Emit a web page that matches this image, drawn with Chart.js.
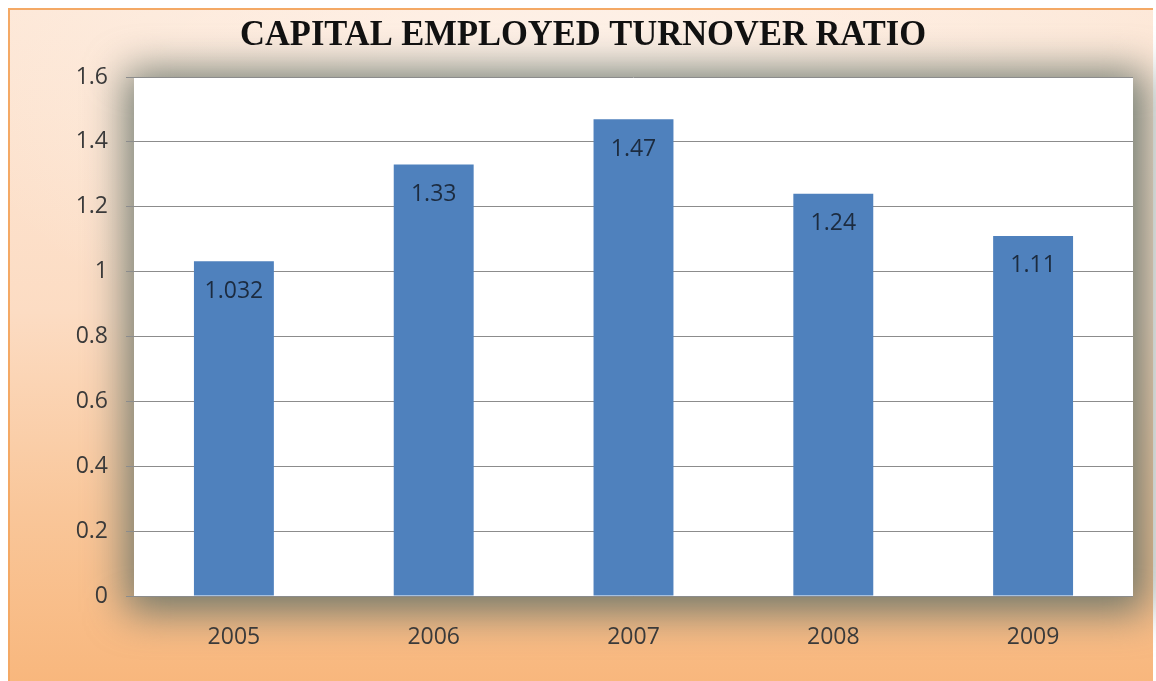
<!DOCTYPE html>
<html>
<head>
<meta charset="utf-8">
<script src="https://cdn.jsdelivr.net/npm/chart.js@4/dist/chart.umd.min.js"></script>
<style>
  body { margin: 0; background: #fff; }
  .frame {
    position: absolute; left: 8px; top: 8px; width: 1145px; height: 673px;
    border-top: 2px solid #f4a965; border-left: 2px solid #f4a965;
    box-sizing: border-box;
    background:
      radial-gradient(ellipse 55% 45% at 50% 12%, rgba(255, 246, 240, 0.75), rgba(255, 246, 240, 0) 100%),
      linear-gradient(to bottom, #fde8d8 0%, #fcdcc3 45%, #f9c699 75%, #f8b77d 100%);
  }
  #chart { position: absolute; left: 0; top: 0; }
</style>
</head>
<body>
<div class="frame"></div>
<canvas id="chart" width="1156" height="681"></canvas>
<script>
const years = ["2005", "2006", "2007", "2008", "2009"];
const ratios = [1.032, 1.33, 1.47, 1.24, 1.11];
const chartTitle = "CAPITAL EMPLOYED TURNOVER RATIO";

// white plot area with the soft grey-green shadow around it
const plotBackground = {
  id: "plotBackground",
  beforeDraw(chart) {
    const { ctx, chartArea: a } = chart;
    const w = a.right - a.left, h = a.bottom - a.top;
    ctx.save();
    ctx.filter = "blur(20px)";
    ctx.fillStyle = "rgba(98, 112, 102, 0.9)";
    ctx.fillRect(a.left - 8, a.top - 6, w + 22, h + 22);
    ctx.restore();
    ctx.save();
    ctx.fillStyle = "#fff";
    ctx.fillRect(a.left, a.top, w, h);
    ctx.restore();
  }
};

// values written inside the top of each bar
const barValues = {
  id: "barValues",
  afterDatasetsDraw(chart) {
    const ctx = chart.ctx;
    const meta = chart.getDatasetMeta(0);
    ctx.save();
    ctx.font = '23px "Open Sans"';
    ctx.fillStyle = "#1c2b3f";
    ctx.textAlign = "center";
    ctx.textBaseline = "middle";
    meta.data.forEach((bar, i) => {
      ctx.fillText(String(ratios[i]), bar.x, bar.y + 30);
    });
    ctx.restore();
  }
};

// condensed serif heading
const heading = {
  id: "heading",
  afterDraw(chart) {
    const ctx = chart.ctx;
    ctx.save();
    ctx.font = 'bold 35px "Liberation Serif"';
    ctx.fillStyle = "#111";
    ctx.textAlign = "center";
    ctx.textBaseline = "alphabetic";
    const w = ctx.measureText(chartTitle).width;
    ctx.translate(583, 45);
    ctx.scale(686 / w, 1);
    ctx.fillText(chartTitle, 0, 0);
    ctx.restore();
  }
};

new Chart(document.getElementById("chart"), {
  type: "bar",
  data: {
    labels: years,
    datasets: [{
      data: ratios,
      backgroundColor: "#4f81bd",
      barPercentage: 0.8,
      categoryPercentage: 0.5
    }]
  },
  options: {
    responsive: false,
    animation: false,
    layout: { padding: { left: 40, top: 77, right: 23, bottom: 0 } },
    plugins: {
      legend: { display: false },
      title: { display: false },
      tooltip: { enabled: false }
    },
    scales: {
      x: {
        grid: { display: false, drawTicks: false },
        border: { display: false },
        ticks: { padding: 28, color: "#3a3a3a", font: { family: "Open Sans", size: 23 } },
        afterFit(scale) { scale.height = 85; }
      },
      y: {
        min: 0,
        max: 1.6,
        grid: { color: "#8c8c8c", tickLength: 8 },
        border: { display: false },
        ticks: {
          stepSize: 0.2,
          padding: 18,
          color: "#3a3a3a",
          font: { family: "Open Sans", size: 23 },
          callback: (v) => String(Math.round(v * 10) / 10)
        },
        afterFit(scale) { scale.width = 94; }
      }
    }
  },
  plugins: [plotBackground, barValues, heading]
});
</script>
</body>
</html>
